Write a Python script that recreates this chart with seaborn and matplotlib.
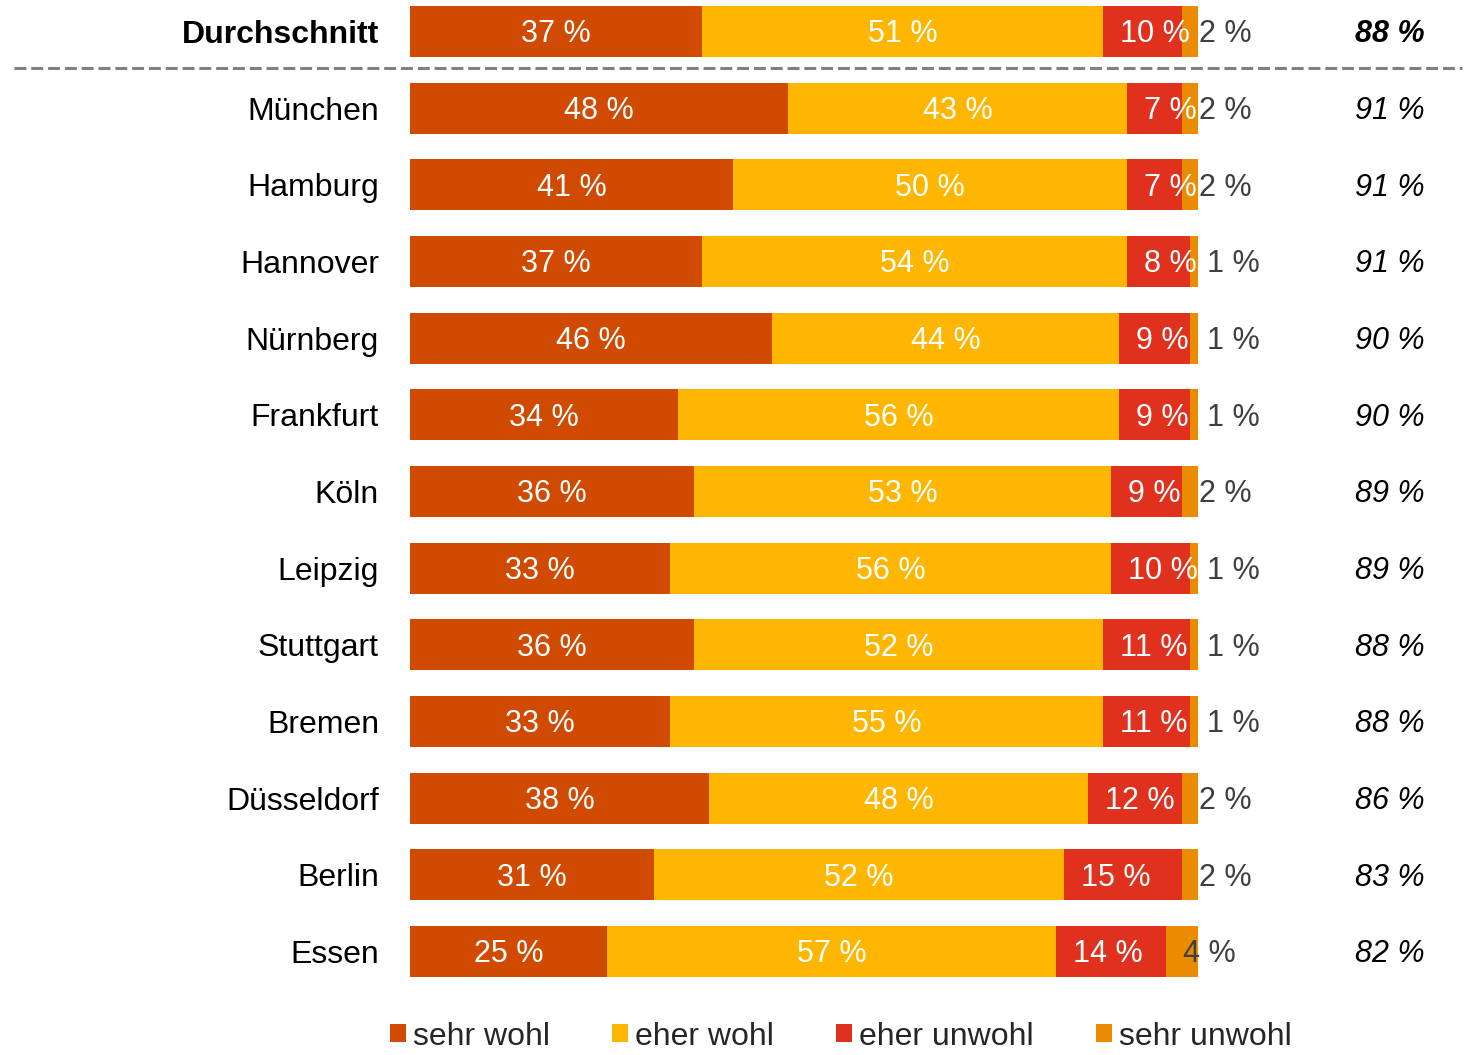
import matplotlib
matplotlib.use("Agg")
import matplotlib.pyplot as plt
import matplotlib.transforms as mtransforms
from matplotlib.patches import Patch
from matplotlib.lines import Line2D
import seaborn as sns
import pandas as pd
import numpy as np

# ---------------- data ----------------
cities = ["Durchschnitt", "München", "Hamburg", "Hannover", "Nürnberg", "Frankfurt",
          "Köln", "Leipzig", "Stuttgart", "Bremen", "Düsseldorf", "Berlin", "Essen"]
sehr_wohl   = [37, 48, 41, 37, 46, 34, 36, 33, 36, 33, 38, 31, 25]
eher_wohl   = [51, 43, 50, 54, 44, 56, 53, 56, 52, 55, 48, 52, 57]
eher_unwohl = [10, 7, 7, 8, 9, 9, 9, 10, 11, 11, 12, 15, 14]
sehr_unwohl = [2, 2, 2, 1, 1, 1, 2, 1, 1, 1, 2, 2, 4]
totals      = [88, 91, 91, 91, 90, 90, 89, 89, 88, 88, 86, 83, 82]

series_names = ["sehr wohl", "eher wohl", "eher unwohl", "sehr unwohl"]
series_vals = [sehr_wohl, eher_wohl, eher_unwohl, sehr_unwohl]
colors = ["#D04A02", "#FFB600", "#E0301E", "#EB8C00"]

# ---------------- figure ----------------
sns.set_theme(style="white")
plt.rcParams["font.family"] = ["Liberation Sans", "DejaVu Sans"]
FS = 22
FS_TICK = 23

fig = plt.figure(figsize=(14.74, 10.55), dpi=100)
ax = fig.add_axes([410 / 1474, 55 / 1055, 788 / 1474, 1000 / 1055])

df = pd.DataFrame({"city": cities})
for name, vals in zip(series_names, series_vals):
    df[name] = vals
cum = df[series_names].cumsum(axis=1)

# draw cumulative bars from longest to shortest so each segment shows
for name, col in reversed(list(zip(series_names, colors))):
    sns.barplot(data=pd.DataFrame({"city": cities, "v": cum[name]}), x="v", y="city",
                order=cities, color=col, width=0.665, orient="h",
                linewidth=0, saturation=1, ax=ax)

ax.set_xlim(0, 100)
ax.set_ylim(12.633, -0.411)
ax.set_xlabel("")
ax.set_ylabel("")
ax.set_xticks([])
for s in ax.spines.values():
    s.set_visible(False)
ax.tick_params(axis="y", length=0, pad=22.3, labelsize=FS_TICK, labelcolor="black")
ax.set_yticks(range(len(cities)))
ax.set_yticklabels(cities)
ax.get_yticklabels()[0].set_fontweight("bold")

# segment labels
pad_pts = 12.2
dy = -2.0
for i in range(len(cities)):
    start = 0
    for j, name in enumerate(series_names):
        v = series_vals[j][i]
        txt = f"{v} %"
        if j < 2:
            off = mtransforms.offset_copy(ax.transData, fig=fig, x=0, y=dy, units="points")
            ax.text(start + v / 2, i, txt, ha="center", va="center",
                    color="white", fontsize=FS, transform=off)
        elif j == 2:
            off = mtransforms.offset_copy(ax.transData, fig=fig, x=pad_pts, y=dy, units="points")
            ax.text(start, i, txt, ha="left", va="center", color="white",
                    fontsize=FS, transform=off)
        else:
            off = mtransforms.offset_copy(ax.transData, fig=fig, x=pad_pts, y=dy, units="points")
            ax.text(start, i, txt, ha="left", va="center", color="#3F3F3F",
                    fontsize=FS, transform=off, zorder=5)
        start += v

# totals column
blend = mtransforms.blended_transform_factory(fig.transFigure, ax.transData)
blend_off = mtransforms.offset_copy(blend, fig=fig, x=0, y=dy, units="points")
for i, t in enumerate(totals):
    ax.text(1390 / 1474, i, f"{t} %", ha="center", va="center", color="black",
            fontsize=FS, style="italic",
            fontweight="bold" if i == 0 else "normal", transform=blend_off)

# dashed separator
line = Line2D([14 / 1474, 1462 / 1474], [0.48, 0.48], transform=blend, color="#808080",
              linewidth=2.2, dashes=(3.9, 1.6), clip_on=False)
ax.add_artist(line)

# legend
handles = [Patch(facecolor=c, edgecolor="none", label=n) for c, n in zip(colors, series_names)]
fig.legend(handles=handles, loc="center", bbox_to_anchor=(0.5705, 0.0175), ncol=4,
           frameon=False, fontsize=FS_TICK, handlelength=0.5, handleheight=0.5,
           handletextpad=0.22, columnspacing=1.94, borderaxespad=0, borderpad=0)

fig.savefig("out.png", dpi=100)
